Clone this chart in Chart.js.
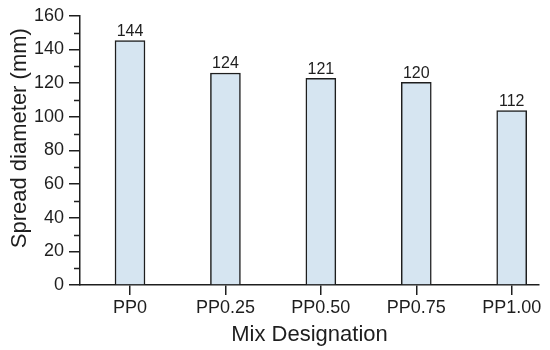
<!DOCTYPE html>
<html>
<head>
<meta charset="utf-8">
<script src="https://cdn.jsdelivr.net/npm/chart.js@4/dist/chart.umd.min.js"></script>
<style>
  html, body { margin: 0; padding: 0; background: #fff; }
  #wrap { width: 550px; height: 350px; }
</style>
</head>
<body>
<div id="wrap"><canvas id="chart"></canvas></div>
<script>
// values: drawn bar heights and the numbers printed above them
const categories = ["PP0", "PP0.25", "PP0.50", "PP0.75", "PP1.00"];
const barHeights = [145.3, 126.0, 122.8, 120.4, 103.6];
const valueLabels = ["144", "124", "121", "120", "112"];
const yTicks = [0, 20, 40, 60, 80, 100, 120, 140, 160];

const ink = "#1e1e1e";
const fontFamily = "'Liberation Sans', Arial, sans-serif";

// numbers printed above each bar
const valueLabelPlugin = {
  id: "valueLabels",
  afterDatasetsDraw(chart) {
    const ctx = chart.ctx;
    const meta = chart.getDatasetMeta(0);
    ctx.save();
    ctx.font = "16px " + fontFamily;
    ctx.fillStyle = ink;
    ctx.textAlign = "center";
    ctx.textBaseline = "bottom";
    meta.data.forEach((bar, i) => {
      ctx.fillText(valueLabels[i], bar.x, bar.y - 1);
    });
    ctx.restore();
  }
};

// short minor ticks half way between the labelled y ticks
const minorTickPlugin = {
  id: "minorTicks",
  afterDraw(chart) {
    const y = chart.scales.y;
    const ctx = chart.ctx;
    ctx.save();
    ctx.strokeStyle = ink;
    ctx.lineWidth = 1.5;
    ctx.beginPath();
    for (let i = 0; i < yTicks.length - 1; i++) {
      const py = Math.round(y.getPixelForValue((yTicks[i] + yTicks[i + 1]) / 2)) + 0.5;
      ctx.moveTo(y.right - 6, py);
      ctx.lineTo(y.right, py);
    }
    ctx.stroke();
    ctx.restore();
  }
};

new Chart(document.getElementById("chart"), {
  type: "bar",
  data: {
    datasets: [{
      data: categories.map((c, i) => ({ x: i, y: barHeights[i] })),
      backgroundColor: "#d6e5f1",
      borderColor: ink,
      borderWidth: 1.5,
      barThickness: 30
    }]
  },
  options: {
    responsive: true,
    maintainAspectRatio: false,
    animation: false,
    layout: { padding: { top: 15, right: 11, left: 0, bottom: 0 } },
    plugins: {
      legend: { display: false },
      tooltip: { enabled: false }
    },
    scales: {
      x: {
        type: "linear",
        min: -0.524,
        max: 4.286,
        offset: false,
        grid: { offset: false, drawOnChartArea: false, tickLength: 10, color: ink, lineWidth: 1.5 },
        border: { color: ink, width: 1.5 },
        // one tick per category, nothing at the padded ends
        afterBuildTicks: s => { s.ticks = categories.map((c, i) => ({ value: i })); },
        afterFit: s => { s.height = 65; },
        ticks: {
          autoSkip: false,
          maxRotation: 0,
          padding: 2,
          color: ink,
          font: { family: fontFamily, size: 18 },
          callback: v => categories[v]
        },
        title: {
          display: true,
          text: "Mix Designation",
          color: ink,
          font: { family: fontFamily, size: 22 },
          padding: { top: 0, bottom: 2 }
        }
      },
      y: {
        min: 0,
        max: 160,
        grid: { drawOnChartArea: false, tickLength: 11, color: ink, lineWidth: 1.5 },
        border: { color: ink, width: 1.5 },
        afterFit: s => { s.width = 80; },
        ticks: {
          stepSize: 20,
          padding: 5,
          color: ink,
          font: { family: fontFamily, size: 18 }
        },
        title: {
          display: true,
          text: "    Spread diameter (mm)",
          color: ink,
          font: { family: fontFamily, size: 22 },
          padding: { top: 7, bottom: 0 }
        }
      }
    }
  },
  plugins: [valueLabelPlugin, minorTickPlugin]
});
</script>
</body>
</html>
